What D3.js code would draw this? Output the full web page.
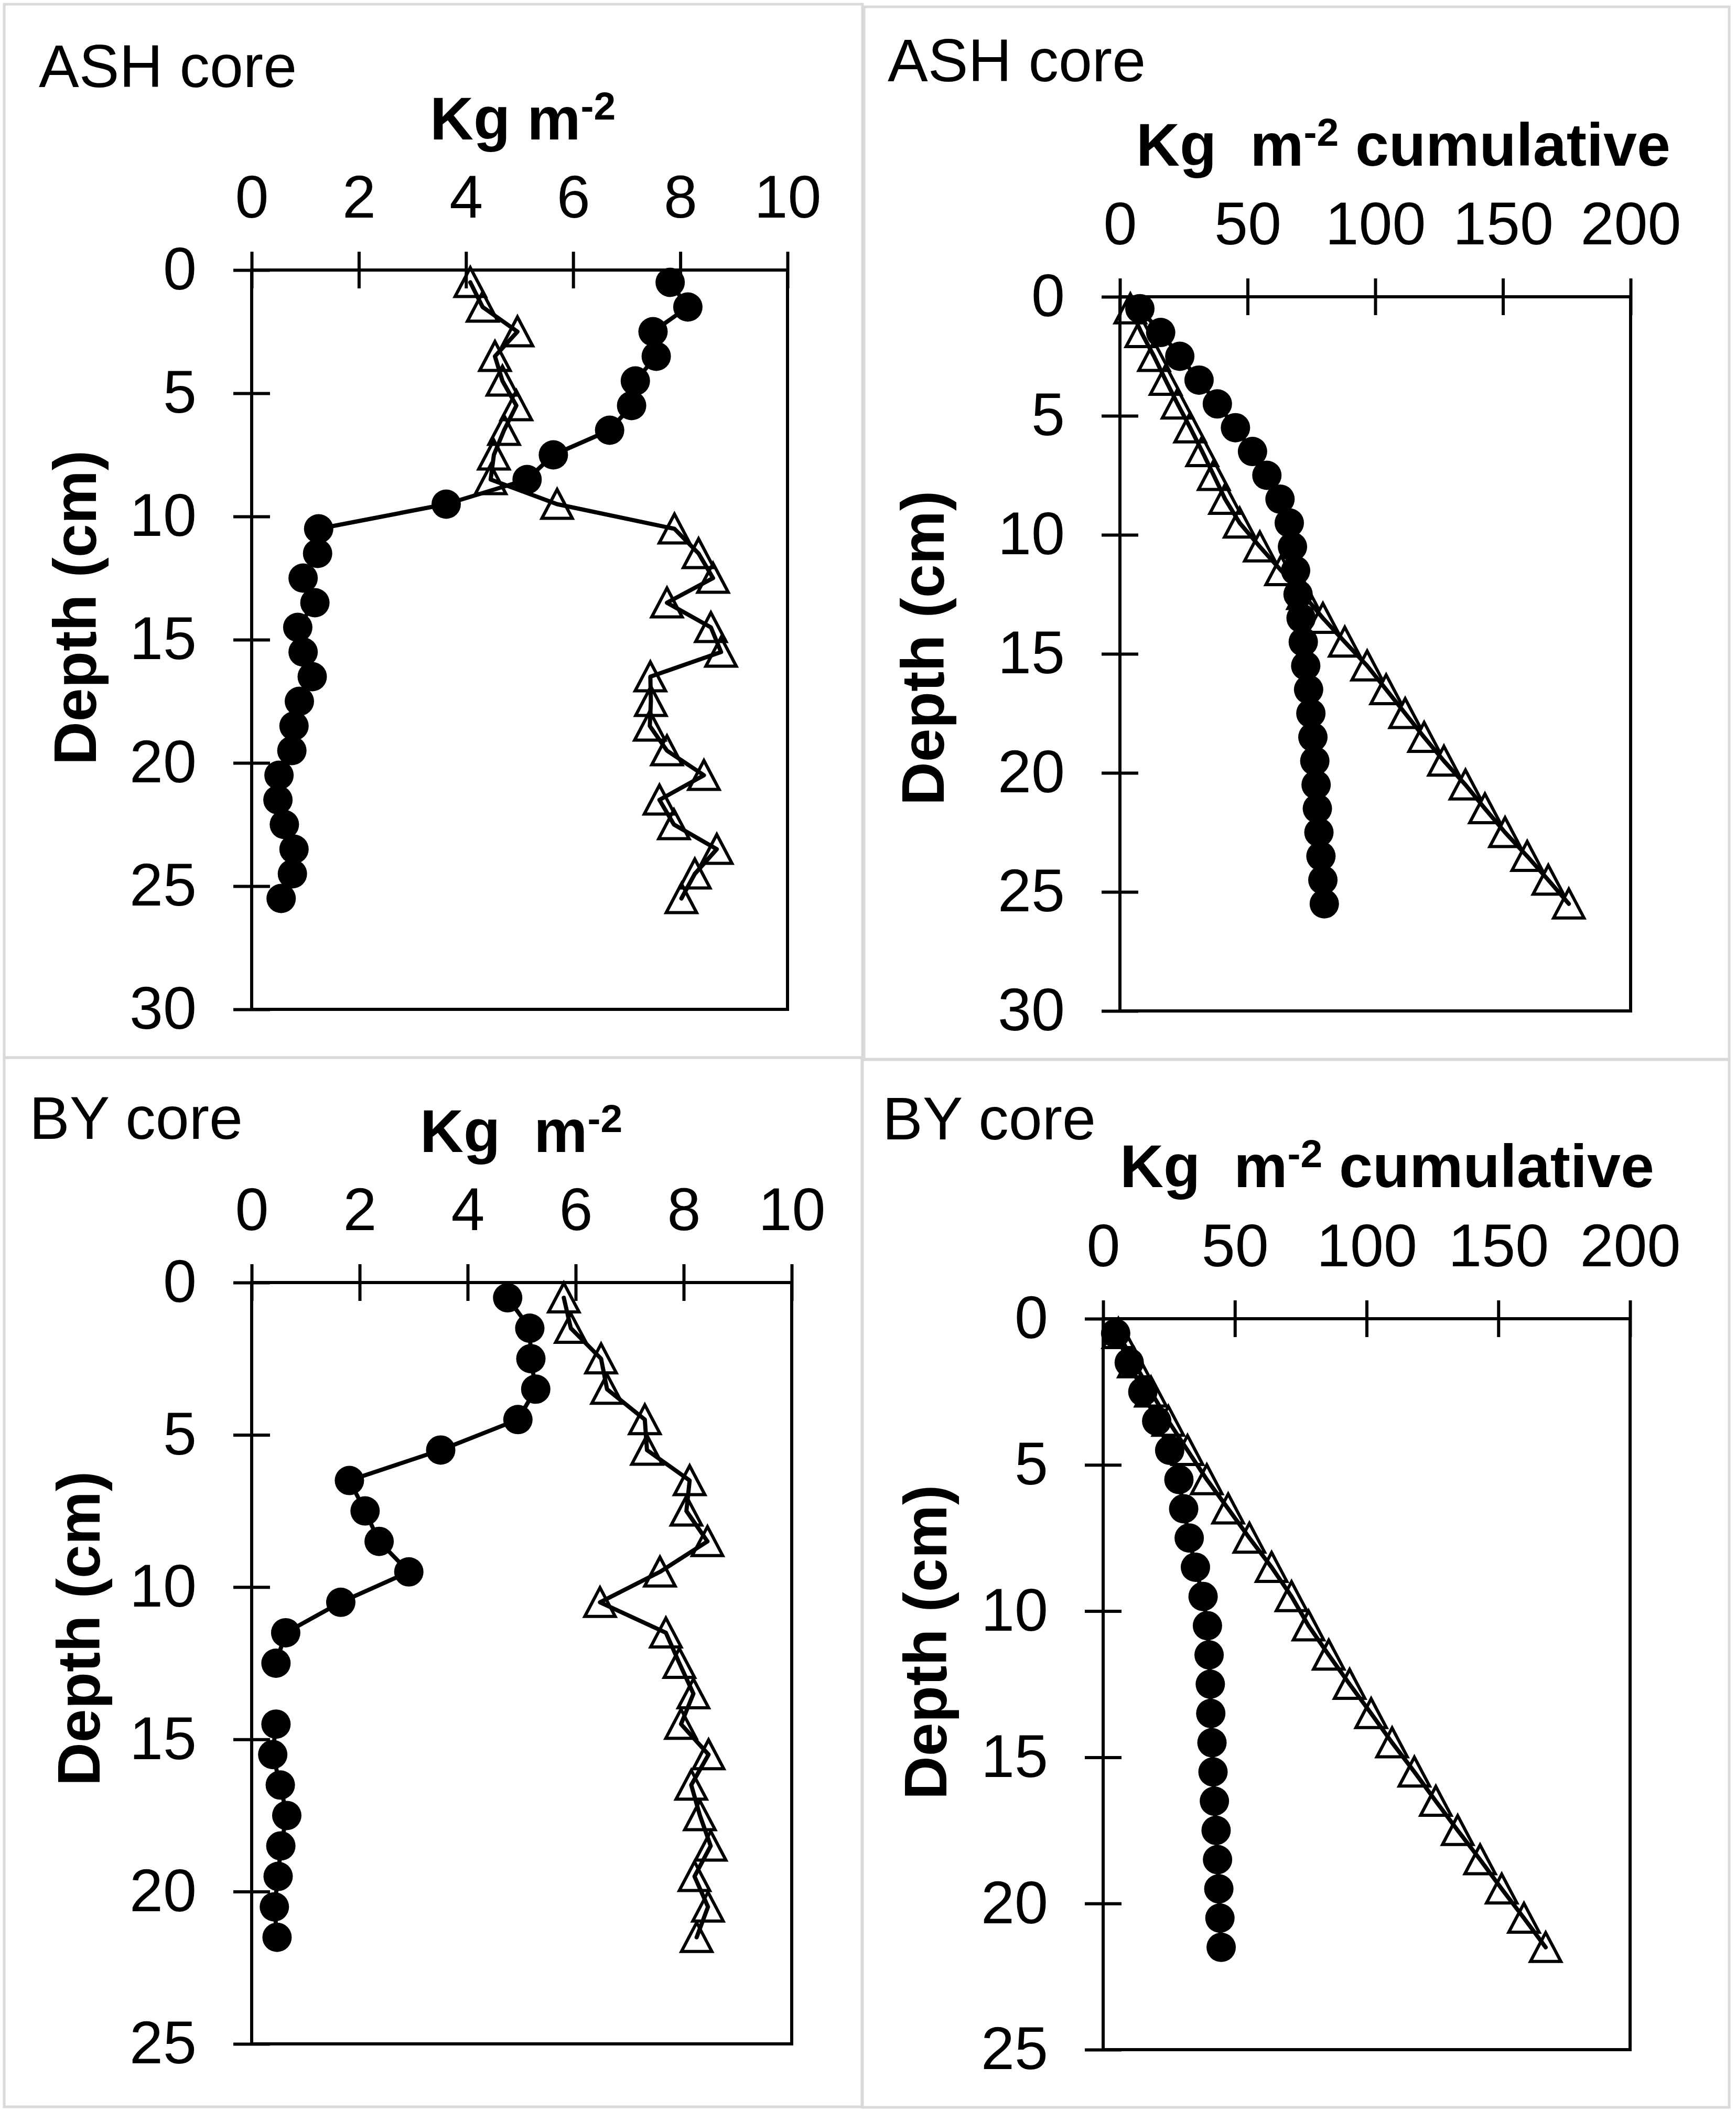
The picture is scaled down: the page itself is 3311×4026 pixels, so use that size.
<!DOCTYPE html>
<html><head><meta charset="utf-8">
<script src="https://cdn.jsdelivr.net/npm/d3@7"></script>
<style>
body{margin:0;background:#fff}
svg text{font-family:"Liberation Sans",Arial,sans-serif;fill:#000}
</style>
</head><body>
<svg id="c" width="3311" height="4026"></svg>
<script>
// ---------- data ----------
const ashDepth = [0.5,1.5,2.5,3.5,4.5,5.5,6.5,7.5,8.5,9.5,10.5,11.5,12.5,13.5,14.5,15.5,16.5,17.5,18.5,19.5,20.5,21.5,22.5,23.5,24.5,25.5];
const ashCircle = [7.81,8.14,7.49,7.55,7.16,7.09,6.68,5.63,5.14,3.63,1.25,1.23,0.96,1.18,0.86,0.96,1.13,0.89,0.79,0.75,0.51,0.49,0.61,0.79,0.76,0.55];
const ashTriangle = [4.08,4.31,4.96,4.54,4.68,4.94,4.71,4.52,4.46,5.70,7.89,8.34,8.61,7.75,8.57,8.76,7.44,7.45,7.43,7.75,8.44,7.61,7.88,8.68,8.27,8.02];
const ashCumCircle = [7.81,15.95,23.44,30.99,38.15,45.24,51.92,57.55,62.69,66.32,67.57,68.80,69.76,70.94,71.80,72.76,73.89,74.78,75.57,76.32,76.83,77.32,77.93,78.72,79.48,80.03];
const ashCumTriangle = [4.08,8.39,13.35,17.89,22.57,27.51,32.22,36.74,41.20,46.90,54.79,63.13,71.74,79.49,88.06,96.82,104.26,111.71,119.14,126.89,135.33,142.94,150.82,159.50,167.77,175.79];

const byDepth = [0.5,1.5,2.5,3.5,4.5,5.5,6.5,7.5,8.5,9.5,10.5,11.5,12.5,13.5,14.5,15.5,16.5,17.5,18.5,19.5,20.5,21.5];
const byCircle = [4.74,5.15,5.17,5.26,4.93,3.50,1.81,2.10,2.36,2.91,1.65,0.63,0.45,null,0.45,0.39,0.53,0.65,0.54,0.49,0.42,0.47];
const byTriangle = [5.78,5.91,6.47,6.58,7.28,7.32,8.11,8.05,8.44,7.56,6.45,7.67,7.92,8.18,7.95,8.46,8.14,8.30,8.50,8.20,8.45,8.24];
const byCumCircle = [4.74,9.89,15.06,20.32,25.25,28.75,30.56,32.66,35.02,37.93,39.58,40.21,40.66,40.85,41.30,41.69,42.22,42.87,43.41,43.90,44.32,44.79];
const byCumTriangle = [5.78,11.69,18.16,24.74,32.02,39.34,47.45,55.50,63.94,71.50,77.95,85.62,93.54,101.72,109.67,118.13,126.27,134.57,143.07,151.27,159.72,167.96];

const ticksKg = [0,2,4,6,8,10];
const ticksCum = [0,50,100,150,200];
const ticksDepth30 = [0,5,10,15,20,25,30];
const ticksDepth25 = [0,5,10,15,20,25];

// ---------- drawing ----------
const svg = d3.select('#c');
const FONT = '"Liberation Sans",Arial,sans-serif';

const frames = [
  {x:8, y:8, w:1637, h:2009},
  {x:1648, y:13, w:1650, h:2007},
  {x:8, y:2017, w:1636, h:2001},
  {x:1645, y:2021, w:1653, h:1998}
];
svg.selectAll('rect.frame').data(frames).join('rect').attr('class','frame')
  .attr('x',d=>d.x).attr('y',d=>d.y).attr('width',d=>d.w).attr('height',d=>d.h)
  .attr('fill','none').attr('stroke','#d9d9d9').attr('stroke-width',5);

const triType = { draw(ctx){ ctx.moveTo(0,-28); ctx.lineTo(29,27); ctx.lineTo(-29,27); ctx.closePath(); } };

function panel(c){
  const g = svg.append('g');
  const x = d3.scaleLinear().domain(c.xDomain).range([c.x0, c.x1]);
  const y = d3.scaleLinear().domain(c.yDomain).range([c.y0, c.y1]);

  g.append('rect').attr('x',c.x0).attr('y',c.y0).attr('width',c.x1-c.x0).attr('height',c.y1-c.y0)
    .attr('fill','none').attr('stroke','#000').attr('stroke-width',6);

  const xa = g.append('g').attr('transform',`translate(0,${c.y0})`)
    .call(d3.axisTop(x).tickValues(c.xTicks).tickSize(35).tickPadding(65).tickFormat(d3.format('d')));
  xa.attr('font-size',115).attr('font-family',FONT);
  xa.select('.domain').remove();
  xa.selectAll('line').attr('y1',35).attr('stroke','#000').attr('stroke-width',6);
  xa.selectAll('text').attr('fill','#000');

  const ya = g.append('g').attr('transform',`translate(${c.x0},0)`)
    .call(d3.axisLeft(y).tickValues(c.yTicks).tickSize(35).tickPadding(70).tickFormat(d3.format('d')));
  ya.attr('font-size',115).attr('font-family',FONT);
  ya.select('.domain').remove();
  ya.selectAll('line').attr('x1',35).attr('stroke','#000').attr('stroke-width',6);
  ya.selectAll('text').attr('fill','#000');

  const pc = c.depth.map((d,i)=>({d, v:c.circ[i]}));
  const pt = c.depth.map((d,i)=>({d, v:c.tri[i]}));
  const line = d3.line().defined(p=>p.v!=null).x(p=>x(p.v)).y(p=>y(p.d));

  g.append('path').datum(pc).attr('d',line).attr('fill','none').attr('stroke','#000')
    .attr('stroke-width',8).attr('stroke-linejoin','round').attr('stroke-linecap','round');
  g.selectAll('circle.pt').data(pc.filter(p=>p.v!=null)).join('circle').attr('class','pt')
    .attr('cx',p=>x(p.v)).attr('cy',p=>y(p.d)).attr('r',28).attr('fill','#000');

  g.selectAll('path.tri').data(pt).join('path').attr('class','tri')
    .attr('d',d3.symbol(triType)()).attr('transform',p=>`translate(${x(p.v)},${y(p.d)})`)
    .attr('fill','none').attr('stroke','#000').attr('stroke-width',6).attr('stroke-linejoin','miter');
  g.append('path').datum(pt).attr('d',line).attr('fill','none').attr('stroke','#000')
    .attr('stroke-width',8).attr('stroke-linejoin','round').attr('stroke-linecap','round');

  g.append('text').attr('x',c.core[0]).attr('y',c.core[1]).attr('font-size',115).text(c.coreText);

  const t = g.append('text').attr('x',c.title[0]).attr('y',c.title[1]).attr('font-size',115)
    .attr('font-weight','bold').style('white-space','pre');
  t.append('tspan').text(c.titlePre);
  t.append('tspan').attr('dy',-38).attr('font-size',75).text('-2');
  if (c.titlePost) t.append('tspan').attr('dy',38).attr('font-size',115).text(c.titlePost);

  g.append('text').attr('transform',`translate(${c.depthLab[0]},${c.depthLab[1]}) rotate(-90)`)
    .attr('text-anchor','middle').attr('font-size',115).attr('font-weight','bold').text('Depth (cm)');
}

panel({xDomain:[0,10], yDomain:[0,30], x0:480, x1:1502, y0:515, y1:1925,
  xTicks:ticksKg, yTicks:ticksDepth30, depth:ashDepth, circ:ashCircle, tri:ashTriangle,
  core:[74,166], coreText:'ASH core', title:[820,266], titlePre:'Kg m', titlePost:null, depthLab:[183,1159]});
panel({xDomain:[0,200], yDomain:[0,30], x0:2136, x1:3110, y0:566, y1:1928,
  xTicks:ticksCum, yTicks:ticksDepth30, depth:ashDepth, circ:ashCumCircle, tri:ashCumTriangle,
  core:[1693,155], coreText:'ASH core', title:[2167,316], titlePre:'Kg  m', titlePost:' cumulative', depthLab:[1800,1236]});
panel({xDomain:[0,10], yDomain:[0,25], x0:480, x1:1510, y0:2446, y1:3898,
  xTicks:ticksKg, yTicks:ticksDepth25, depth:byDepth, circ:byCircle, tri:byTriangle,
  core:[56,2172], coreText:'BY core', title:[801,2197], titlePre:'Kg  m', titlePost:null, depthLab:[190,3106]});
panel({xDomain:[0,200], yDomain:[0,25], x0:2104, x1:3109, y0:2515, y1:3909,
  xTicks:ticksCum, yTicks:ticksDepth25, depth:byDepth, circ:byCumCircle, tri:byCumTriangle,
  core:[1683,2173], coreText:'BY core', title:[2136,2264], titlePre:'Kg  m', titlePost:' cumulative', depthLab:[1805,3132]});
</script>
</body></html>
